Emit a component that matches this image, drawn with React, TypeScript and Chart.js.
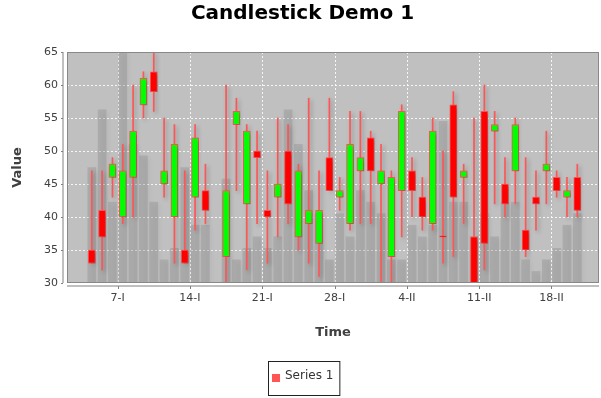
import React, { useEffect, useRef } from 'react';
import { Chart, registerables } from 'chart.js';

Chart.register(...registerables);

const chartTitle = 'Candlestick Demo 1';
const seriesName = 'Series 1';
const xAxisTitle = 'Time';
const yAxisTitle = 'Value';

const dates = [
  '2001-01-04', '2001-01-05', '2001-01-06', '2001-01-07', '2001-01-08', '2001-01-09',
  '2001-01-10', '2001-01-11', '2001-01-12', '2001-01-13', '2001-01-14', '2001-01-15',
  '2001-01-17', '2001-01-18', '2001-01-19', '2001-01-20', '2001-01-21', '2001-01-22',
  '2001-01-23', '2001-01-24', '2001-01-25', '2001-01-26', '2001-01-27', '2001-01-28',
  '2001-01-29', '2001-01-30', '2001-01-31', '2001-02-01', '2001-02-02', '2001-02-03',
  '2001-02-04', '2001-02-05', '2001-02-06', '2001-02-07', '2001-02-08', '2001-02-09',
  '2001-02-10', '2001-02-11', '2001-02-12', '2001-02-13', '2001-02-14', '2001-02-15',
  '2001-02-16', '2001-02-17', '2001-02-18', '2001-02-19', '2001-02-20',
];
const opens = [
  35, 41, 46, 40, 46, 57, 62, 45, 40, 35, 43, 44,
  34, 54, 42, 50, 41, 43, 50, 37, 39, 36, 49, 43,
  39, 47, 52, 45, 34, 44, 47, 43, 39, 37, 57, 46,
  37, 56, 53, 45, 47, 38, 43, 47, 46, 43, 46,
];
const highs = [
  47, 47, 49, 51, 60, 62, 65, 55, 54, 47, 54, 48,
  60, 58, 54, 53, 47, 55, 54, 48, 58, 47, 58, 46,
  56, 56, 53, 51, 47, 57, 49, 46, 55, 50, 59, 48,
  55, 60, 56, 49, 55, 49, 47, 53, 47, 46, 48,
];
const lows = [
  33, 32, 43, 39, 40, 55, 56, 43, 33, 33, 38, 39,
  30, 44, 32, 39, 33, 37, 39, 35, 33, 31, 44, 41,
  38, 39, 39, 30, 30, 37, 40, 38, 38, 33, 34, 39,
  29, 32, 42, 40, 42, 34, 38, 42, 43, 40, 40,
];
const closes = [
  33, 37, 48, 47, 53, 61, 59, 47, 51, 33, 52, 41,
  44, 56, 53, 49, 40, 45, 42, 47, 41, 41, 44, 44,
  51, 49, 47, 47, 46, 56, 44, 40, 53, 37, 43, 47,
  29, 36, 54, 42, 54, 35, 42, 48, 44, 44, 41,
];
const volumes = [
  100, 150, 70, 200, 120, 110, 70, 20, 30, 100, 50, 50,
  90, 20, 30, 40, 30, 40, 150, 120, 80, 60, 20, 60,
  40, 80, 70, 60, 20, 20, 50, 40, 50, 140, 70, 70,
  40, 60, 40, 70, 70, 20, 10, 20, 30, 50, 60,
];
const tickDates = ['2001-01-07', '2001-01-14', '2001-01-21', '2001-01-28', '2001-02-04', '2001-02-11', '2001-02-18'];
const tickLabels = ['7-I', '14-I', '21-I', '28-I', '4-II', '11-II', '18-II'];

const FONT = '"DejaVu Sans", "Liberation Sans", sans-serif';
const DAY0 = Date.UTC(2001, 0, 1);
const toDay = (s: string) => (Date.parse(s + 'T00:00:00Z') - DAY0) / 86400000;

const decorPlugin = {
  id: 'decor',
  beforeDraw(chart: any) {
    const { ctx, chartArea: a } = chart;
    ctx.save();
    ctx.fillStyle = '#C0C0C0';
    ctx.fillRect(a.left, a.top, a.right - a.left, a.bottom - a.top);
    ctx.restore();
  },
  beforeDatasetsDraw(chart: any) {
    const { ctx, chartArea: a, scales } = chart;
    ctx.save();
    ctx.strokeStyle = 'rgba(255,255,255,0.85)';
    ctx.lineWidth = 1;
    ctx.setLineDash([2, 2]);
    ctx.beginPath();
    scales.y.ticks.forEach((t: any) => {
      const py = Math.round(scales.y.getPixelForValue(t.value)) + 0.5;
      if (py <= a.top + 1 || py >= a.bottom - 1) return;
      ctx.moveTo(a.left, py);
      ctx.lineTo(a.right, py);
    });
    scales.x.ticks.forEach((t: any) => {
      const px = Math.round(scales.x.getPixelForValue(t.value)) + 0.5;
      ctx.moveTo(px, a.top);
      ctx.lineTo(px, a.bottom);
    });
    ctx.stroke();
    ctx.restore();
  },
  beforeDatasetDraw(chart: any, args: any) {
    const ctx = chart.ctx;
    ctx.save();
    ctx.shadowColor = args.index === 2 ? 'rgba(0,0,0,0.15)' : 'rgba(0,0,0,0.28)';
    ctx.shadowBlur = 4;
    ctx.shadowOffsetX = 2;
    ctx.shadowOffsetY = 2;
  },
  afterDatasetDraw(chart: any) {
    chart.ctx.restore();
  },
  afterDraw(chart: any) {
    const { ctx, chartArea: a, scales } = chart;
    ctx.save();
    ctx.strokeStyle = '#888888';
    ctx.lineWidth = 1;
    ctx.strokeRect(a.left + 0.5, a.top + 0.5, a.right - a.left - 1, a.bottom - a.top - 1);
    ctx.strokeStyle = '#808080';
    ctx.beginPath();
    ctx.moveTo(a.left - 4, a.top);
    ctx.lineTo(a.left - 4, a.bottom);
    ctx.moveTo(a.left, a.bottom + 3);
    ctx.lineTo(a.right, a.bottom + 3);
    const ys = scales.y;
    ys.ticks.forEach((t: any) => {
      const py = Math.round(ys.getPixelForValue(t.value)) + 0.5;
      ctx.moveTo(a.left - 6, py);
      ctx.lineTo(a.left - 4, py);
    });
    const xsc = scales.x;
    xsc.ticks.forEach((t: any) => {
      const px = Math.round(xsc.getPixelForValue(t.value)) + 0.5;
      ctx.moveTo(px, a.bottom + 3);
      ctx.lineTo(px, a.bottom + 6);
    });
    ctx.stroke();
    ctx.font = '12px ' + FONT;
    const tw = ctx.measureText(seriesName).width;
    const bw = 4 + 8 + 5 + tw + 6;
    const bx = Math.round(303.5 - bw / 2) + 0.5;
    const by = 361.5;
    ctx.strokeStyle = '#222222';
    ctx.strokeRect(bx, by, bw, 34);
    ctx.fillStyle = '#FF5555';
    ctx.fillRect(bx + 3.5, 374, 8, 8);
    ctx.fillStyle = '#333333';
    ctx.textBaseline = 'middle';
    ctx.textAlign = 'left';
    ctx.fillText(seriesName, bx + 16.5, 376);
    ctx.restore();
  },
};

export default function App() {
  const ref = useRef<HTMLCanvasElement | null>(null);
  useEffect(() => {
    if (!ref.current) return;
    const xs = dates.map((d) => toDay(d) + 0.5);
    const tickDays = tickDates.map((d) => toDay(d));
    const bodyColors = opens.map((o, i) => (closes[i] > o ? '#00FF00' : '#FF0000'));
    const chart = new Chart(ref.current, {
      type: 'bar',
      data: {
        datasets: [
          {
            label: seriesName,
            data: xs.map((x, i) => ({ x, y: [opens[i], closes[i]] })) as any,
            backgroundColor: bodyColors,
            borderColor: '#FF5555',
            borderWidth: 1,
            borderSkipped: false,
            barThickness: 7,
            minBarLength: 1,
            grouped: false,
            order: 0,
            yAxisID: 'y',
            clip: 0 as any,
          },
          {
            label: 'wick',
            data: xs.map((x, i) => ({ x, y: [lows[i], highs[i]] })) as any,
            backgroundColor: '#FF5555',
            borderWidth: 0,
            barThickness: 1,
            grouped: false,
            order: 1,
            yAxisID: 'y',
            clip: 0 as any,
          },
          {
            label: 'volume',
            data: xs.map((x, i) => ({ x, y: volumes[i] })) as any,
            backgroundColor: 'rgba(128,128,128,0.3)',
            borderWidth: 0,
            barThickness: 8,
            grouped: false,
            order: 2,
            yAxisID: 'yv',
          },
        ],
      },
      options: {
        responsive: false,
        animation: false,
        events: [],
        layout: { padding: { left: 6, right: 2, top: 0, bottom: 54 } },
        plugins: {
          legend: { display: false },
          tooltip: { enabled: false },
          title: {
            display: true,
            text: chartTitle,
            color: '#000000',
            font: { family: FONT, size: 20, weight: 'bold' },
            padding: { top: 2, bottom: 26 },
          },
        },
        scales: {
          x: {
            type: 'linear',
            offset: false,
            min: 1.1,
            max: 52.6,
            afterBuildTicks: (s: any) => {
              s.ticks = tickDays.map((v) => ({ value: v }));
            },
            afterFit: (s: any) => {
              s.height = 61;
            },
            ticks: {
              autoSkip: false,
              maxRotation: 0,
              padding: 9,
              color: '#404040',
              font: { family: FONT, size: 11 },
              callback: (_v: any, i: number) => tickLabels[i],
            },
            grid: { display: false, offset: false, drawTicks: false },
            border: { display: false },
            title: {
              display: true,
              text: xAxisTitle,
              color: '#404040',
              font: { family: FONT, size: 13, weight: 'bold' },
              padding: { top: 4, bottom: 4 },
            },
          },
          y: {
            type: 'linear',
            position: 'left',
            min: 30,
            max: 65,
            afterFit: (s: any) => {
              s.width = 61;
            },
            ticks: {
              stepSize: 5,
              padding: 9,
              color: '#404040',
              font: { family: FONT, size: 11 },
            },
            grid: { display: false, drawTicks: false },
            border: { display: false },
            title: {
              display: true,
              text: yAxisTitle,
              color: '#404040',
              font: { family: FONT, size: 13, weight: 'bold' },
              padding: { top: 4, bottom: 4 },
            },
          },
          yv: {
            type: 'linear',
            display: false,
            min: 0,
            max: 200,
          },
        },
      } as any,
      plugins: [decorPlugin],
    });
    return () => chart.destroy();
  }, []);
  return (
    <div style={{ position: 'absolute', left: 0, top: 0, width: 601, height: 398, background: '#ffffff' }}>
      <canvas ref={ref} width={601} height={398} style={{ display: 'block' }} />
    </div>
  );
}
